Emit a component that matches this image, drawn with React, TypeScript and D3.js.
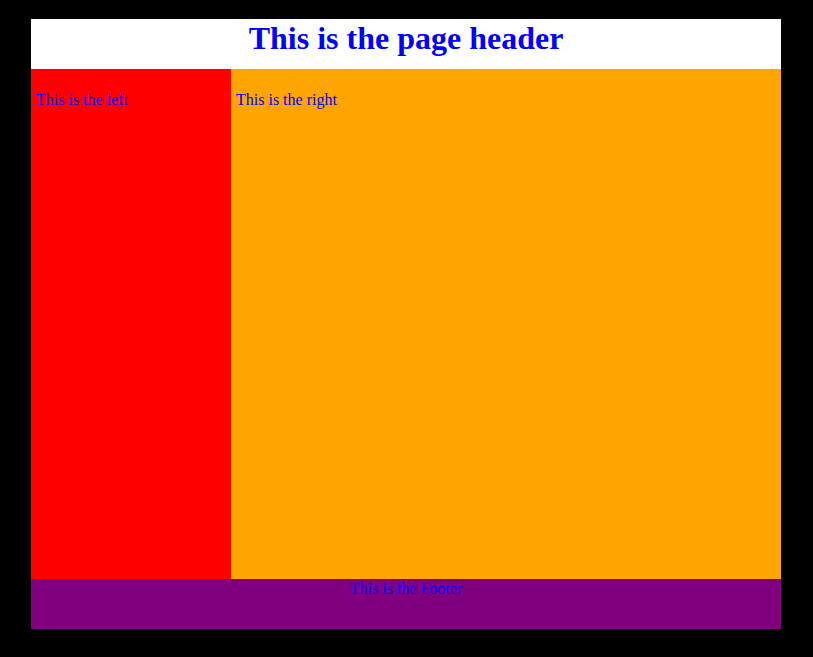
import * as d3 from 'd3';
import * as React from 'react';

const regions = ['header', 'left', 'right', 'footer'];
const labels = ['This is the page header', 'This is the left', 'This is the right', 'This is the Footer'];
const fills = ['#ffffff', '#ff0000', '#ffa500', '#800080'];

const W = 813;
const H = 657;

export default function App() {
  // page box inside the black frame
  const x = d3.scaleLinear().domain([0, 1]).range([31, 781]);
  const y = d3.scaleLinear().domain([0, 1]).range([19, 629]);
  const headH = 50;
  const footH = 50;
  const leftW = 200;

  const boxes: Record<string, { x: number; y: number; w: number; h: number }> = {
    header: { x: x(0), y: y(0), w: x(1) - x(0), h: headH },
    left: { x: x(0), y: y(0) + headH, w: leftW, h: y(1) - y(0) - headH - footH },
    right: { x: x(0) + leftW, y: y(0) + headH, w: x(1) - x(0) - leftW, h: y(1) - y(0) - headH - footH },
    footer: { x: x(0), y: y(1) - footH, w: x(1) - x(0), h: footH },
  };

  return (
    <svg width={W} height={H} style={{ position: 'fixed', left: 0, top: 0 }}>
      <rect width={W} height={H} fill="#000" />
      {regions.map((r, i) => {
        const b = boxes[r];
        return <rect key={r} x={b.x} y={b.y} width={b.w} height={b.h} fill={fills[i]} />;
      })}
      <text x={(x(0) + x(1)) / 2} y={boxes.header.y + 30} textAnchor="middle"
        fontFamily="'Liberation Serif', serif" fontWeight="bold" fontSize={32} fill="#0000ff">{labels[0]}</text>
      <text x={boxes.left.x + 5} y={boxes.left.y + 36} fontFamily="'Liberation Serif', serif" fontSize={16} fill="#0000ff">{labels[1]}</text>
      <text x={boxes.right.x + 5} y={boxes.right.y + 36} fontFamily="'Liberation Serif', serif" fontSize={16} fill="#0000ff">{labels[2]}</text>
      <text x={(x(0) + x(1)) / 2} y={boxes.footer.y + 15} textAnchor="middle"
        fontFamily="'Liberation Serif', serif" fontSize={16} fill="#0000ff">{labels[3]}</text>
    </svg>
  );
}
